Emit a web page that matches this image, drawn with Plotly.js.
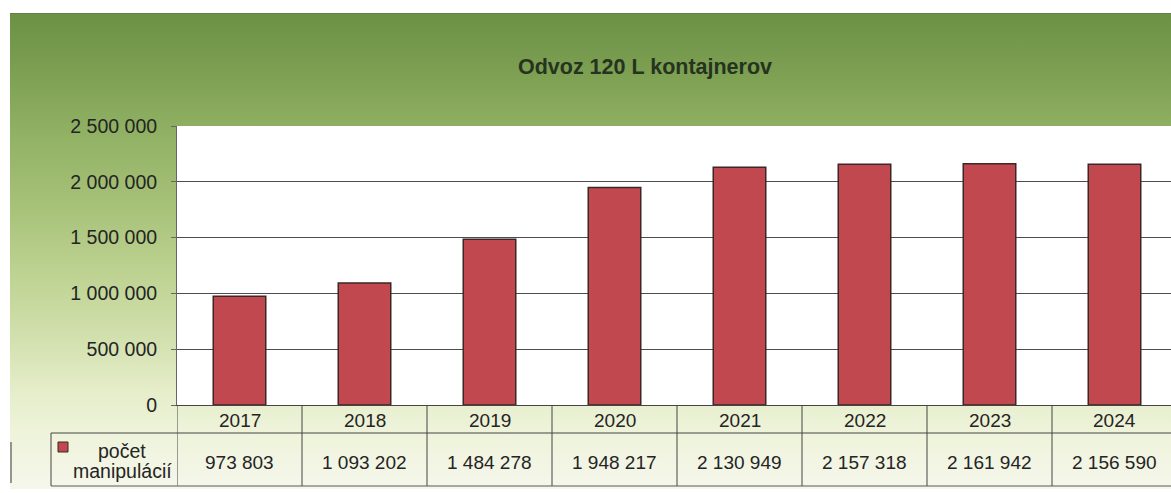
<!DOCTYPE html>
<html>
<head>
<meta charset="utf-8">
<script src="https://cdn.plot.ly/plotly-3.0.1.min.js"></script>
<style>
  html, body { margin: 0; padding: 0; background: #ffffff; overflow: hidden; width: 1171px; height: 493px; }
  #bg { position: absolute; left: 10px; top: 13px; width: 1200px; height: 475px;
        background: linear-gradient(to bottom, #6c9145 0%, #7c9f52 12%, #8fb062 24%, #a6c178 40%, #bed392 55%, #d5e2b2 70%, #e6eecb 80%, #eef3da 88%, #f5f7eb 100%);
        border-top: 1px solid #667f4a; }
  #chart { position: absolute; left: 0; top: 0; width: 1190px; height: 493px; }
</style>
</head>
<body>
<div id="bg"></div>
<div id="chart"></div>
<script>
const chartTitle = "Odvoz 120 L kontajnerov";
const seriesName = "počet manipulácií";
const seriesNameLines = ["počet", "manipulácií"];
const years = ["2017", "2018", "2019", "2020", "2021", "2022", "2023", "2024"];
const values = [973803, 1093202, 1484278, 1948217, 2130949, 2157318, 2161942, 2156590];
const yTicks = [0, 500000, 1000000, 1500000, 2000000, 2500000];

function fmt(v) { return String(v).replace(/\B(?=(\d{3})+(?!\d))/g, " "); }

const W = 1190, H = 493;
const L = 177, R = 1177, T = 126, B = 405;
const ph = B - T;
function py(p) { return (B - p) / ph; }     // pixel y -> paper y
function px(p) { return (p - L) / (R - L); } // pixel x -> paper x

const lineCol = "#454545";
const txtCol = "#242424";
const font = "Arial, 'Liberation Sans', sans-serif";

const shapes = [];
// vertical table lines
for (let i = 0; i <= years.length; i++) {
  shapes.push({type: "line", xref: "x", yref: "paper", x0: i - 0.5, x1: i - 0.5,
    y0: py(405), y1: py(486), line: {color: lineCol, width: 1}});
}
// horizontal table lines
shapes.push({type: "line", xref: "paper", yref: "paper", x0: px(51), x1: px(1200),
  y0: py(433), y1: py(433), line: {color: lineCol, width: 1}});
shapes.push({type: "line", xref: "paper", yref: "paper", x0: px(51), x1: px(1200),
  y0: py(486), y1: py(486), line: {color: "#5a5a5a", width: 1.2}});
shapes.push({type: "line", xref: "paper", yref: "paper", x0: px(51), x1: px(51),
  y0: py(433), y1: py(486), line: {color: lineCol, width: 1}});
// chart left edge stub
shapes.push({type: "line", xref: "paper", yref: "paper", x0: px(11), x1: px(11),
  y0: py(442), y1: py(483), line: {color: "#555", width: 1.2}});
// legend key
shapes.push({type: "rect", xref: "paper", yref: "paper", x0: px(58), x1: px(68),
  y0: py(452), y1: py(442), fillcolor: "#c24850", line: {color: "#3d2626", width: 1}});

const annotations = [];
years.forEach((y, i) => {
  annotations.push({xref: "x", yref: "paper", x: i, y: py(420), text: y, showarrow: false,
    xanchor: "center", yanchor: "middle", font: {family: font, size: 19, color: txtCol}});
  annotations.push({xref: "x", yref: "paper", x: i, y: py(462), text: fmt(values[i]), showarrow: false,
    xanchor: "center", yanchor: "middle", font: {family: font, size: 19, color: txtCol}});
});
const legendLineY = [451, 471];
seriesNameLines.forEach((t, k) => {
  annotations.push({xref: "paper", yref: "paper", x: px(122), y: py(legendLineY[k]), text: t,
    showarrow: false, xanchor: "center", yanchor: "middle",
    font: {family: font, size: 19.5, color: txtCol}});
});

const data = [{
  type: "bar", name: seriesName, x: years, y: values, width: 0.42,
  marker: {color: "#c24850", line: {color: "#3d2626", width: 1.5}},
  showlegend: false, hoverinfo: "x+y"
}];

const layout = {
  width: W, height: H,
  margin: {l: L, r: W - R, t: T, b: H - B, pad: 0},
  paper_bgcolor: "rgba(0,0,0,0)", plot_bgcolor: "#ffffff",
  separators: ", ",
  title: {text: chartTitle, xref: "container", yref: "container", x: 645 / W, y: 1 - 66 / H,
    xanchor: "center", yanchor: "middle",
    font: {family: font, size: 21.5, weight: "bold", color: "#25331f"}},
  xaxis: {type: "category", range: [-0.5, years.length - 0.5], showgrid: false, showticklabels: false,
    ticks: "", showline: true, linecolor: lineCol, linewidth: 1, zeroline: false, fixedrange: true},
  yaxis: {range: [0, 2500000], tickvals: yTicks, ticktext: yTicks.map(fmt), ticks: "outside",
    ticklen: 5, tickcolor: "#666", tickwidth: 1, ticklabelstandoff: 10,
    showgrid: true, gridcolor: "#4d4d4d", gridwidth: 1, showline: true, linecolor: "#666", linewidth: 1,
    zeroline: false, fixedrange: true,
    tickfont: {family: font, size: 19.5, color: txtCol}},
  bargap: 0.58,
  shapes: shapes, annotations: annotations
};

Plotly.newPlot("chart", data, layout, {displayModeBar: false, responsive: false, staticPlot: true});
</script>
</body>
</html>
